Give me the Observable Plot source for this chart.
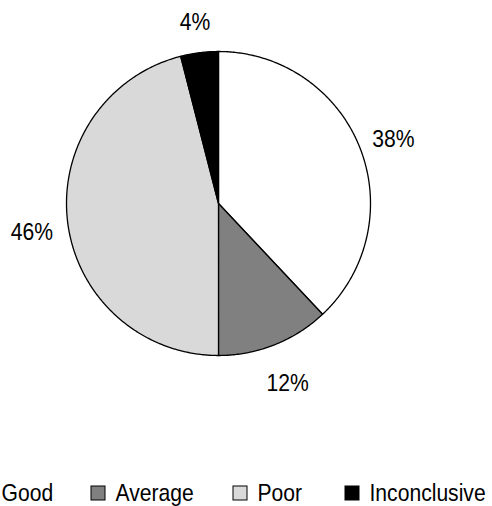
<!DOCTYPE html>
<html><head><meta charset="utf-8">
<script src="https://cdn.jsdelivr.net/npm/d3@7"></script>
<script src="https://cdn.jsdelivr.net/npm/@observablehq/plot@0.6"></script>
<style>
html,body{margin:0;padding:0;background:#fff;}
</style>
</head><body>
<div id="chart"></div>
<script>
const categories = ["Good", "Average", "Poor", "Inconclusive"];
const values = [38, 12, 46, 4];
const labels = ["38%", "12%", "46%", "4%"];
const colors = ["#ffffff", "#808080", "#d9d9d9", "#000000"];

const W = 492, H = 506;
const cx = 218, cy = 203, R = 152, LR = 188;
const FONT = "'Liberation Sans', Arial, sans-serif";
const SX = 0.88; // narrow face emulation

const pie = d3.pie().sort(null).value(d => d.value)(categories.map((c, i) => ({cat: c, value: values[i], label: labels[i]})));

const pts = [];
pie.forEach(s => {
  const n = Math.max(2, Math.ceil((s.endAngle - s.startAngle) / 0.01));
  pts.push({cat: s.data.cat, x: cx, y: cy});
  for (let k = 0; k <= n; k++) {
    const a = s.startAngle + (s.endAngle - s.startAngle) * k / n;
    pts.push({cat: s.data.cat, x: cx + R * Math.sin(a), y: cy - R * Math.cos(a)});
  }
  pts.push({cat: s.data.cat, x: cx, y: cy});
});

const lab = pie.map(s => {
  const a = (s.startAngle + s.endAngle) / 2;
  return {label: s.data.label, x: cx + LR * Math.sin(a), y: cy - LR * Math.cos(a)};
});

const legX = [-23, 91, 233, 345];
const legend = categories.map((c, i) => ({cat: c, x: legX[i]}));
const legY = 493;

const chart = Plot.plot({
  width: W, height: H, margin: 0,
  x: {domain: [0, W], range: [0, W], axis: null},
  y: {domain: [0, H], range: [0, H], axis: null},
  color: {domain: categories, range: colors},
  style: {fontFamily: FONT, background: "#fff"},
  marks: [
    Plot.line(pts, {x: "x", y: "y", z: "cat", fill: "cat", stroke: "#000", strokeWidth: 1.3, strokeLinejoin: "round", curve: "linear"}),
    Plot.text(lab, {x: "x", y: "y", dy: 5, text: "label", fontSize: 24, fill: "#000"}),
    Plot.rect(legend, {x1: "x", x2: d => d.x + 14, y1: legY - 7, y2: legY + 7, fill: "cat", stroke: "#000", strokeWidth: 1}),
    Plot.text(legend, {x: d => d.x + 24, y: legY, text: "cat", textAnchor: "start", fontSize: 24, fill: "#000"})
  ]
});
document.getElementById("chart").appendChild(chart);

// emulate a narrow typeface: squeeze each text horizontally about its anchor (in its local space)
chart.querySelectorAll("text").forEach(t => {
  const b = t.getBBox();
  const anchor = getComputedStyle(t).textAnchor || "middle";
  const ax = anchor === "start" ? b.x : anchor === "end" ? b.x + b.width : b.x + b.width / 2;
  const tr = t.getAttribute("transform") || "";
  t.setAttribute("transform", `${tr} translate(${ax},0) scale(${SX},1) translate(${-ax},0)`);
});
</script>
</body></html>
